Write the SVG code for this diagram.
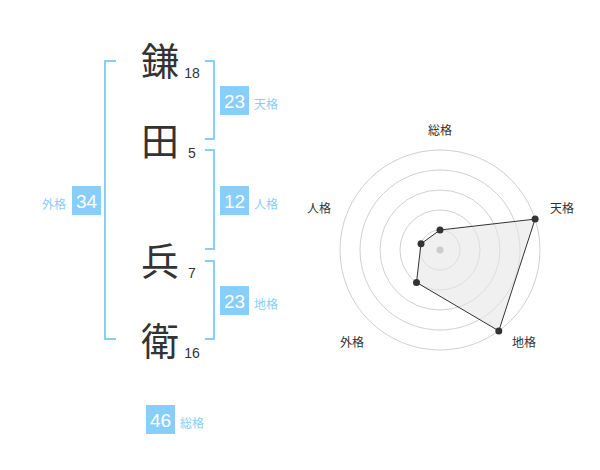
<svg xmlns="http://www.w3.org/2000/svg" width="600" height="470" viewBox="0 0 600 470">
<style>
.ch{font-family:"Noto Sans CJK JP","Noto Sans CJK SC",sans-serif;font-size:38px;fill:#333;text-anchor:middle}
.st{font-family:"Liberation Sans",Arial,sans-serif;font-size:14px;fill:#333;text-anchor:middle}
.br{fill:none;stroke:#87cefa;stroke-width:2}
.bx{fill:#87cefa}
.bn{font-family:"Liberation Sans",Arial,sans-serif;font-size:19px;fill:#fff;text-anchor:middle}
.bl{font-family:"Noto Sans CJK JP","Noto Sans CJK SC",sans-serif;font-size:12px;fill:#87cefa}
.rl{font-family:"Noto Sans CJK JP","Noto Sans CJK SC",sans-serif;font-size:12px;fill:#333;text-anchor:middle}
.ring{fill:none;stroke:#d0d0d0;stroke-width:1}
.pt{fill:#333}
</style>
<rect width="600" height="470" fill="#fff"/>
<g id="name">
<g id="c1"><text class="ch" x="160" y="74.5">鎌</text><text class="st" x="192" y="78">18</text></g>
<g id="c2"><text class="ch" x="160" y="154.5">田</text><text class="st" x="192" y="158">5</text></g>
<g id="c3"><text class="ch" x="160" y="274.5">兵</text><text class="st" x="192" y="278">7</text></g>
<g id="c4"><text class="ch" x="160" y="354.5">衛</text><text class="st" x="192" y="358">16</text></g>
</g>
<g id="connectors">
<path class="br" d="M116,61 H105 V339 H116"/>
<path class="br" d="M205,61 H214 V139 H205"/>
<path class="br" d="M205,150 H214 V249 H205"/>
<path class="br" d="M205,261 H214 V339 H205"/>
</g>
<g id="tenkaku"><rect class="bx" x="220" y="86" width="29" height="29"/><text class="bn" x="234.5" y="107.5">23</text><text class="bl" x="254" y="109">天格</text></g>
<g id="jinkaku"><rect class="bx" x="220" y="186" width="29" height="29"/><text class="bn" x="234.5" y="207.5">12</text><text class="bl" x="254" y="209">人格</text></g>
<g id="chikaku"><rect class="bx" x="220" y="286" width="29" height="29"/><text class="bn" x="234.5" y="307.5">23</text><text class="bl" x="254" y="309">地格</text></g>
<g id="gaikaku"><rect class="bx" x="72" y="186" width="29" height="29"/><text class="bn" x="86.5" y="207.5">34</text><text class="bl" x="66" y="209" text-anchor="end">外格</text></g>
<g id="soukaku"><rect class="bx" x="146" y="405" width="29" height="29"/><text class="bn" x="160.5" y="426.5">46</text><text class="bl" x="180" y="428">総格</text></g>
<g id="radar">
<circle class="ring" cx="440" cy="250" r="20"/>
<circle class="ring" cx="440" cy="250" r="40"/>
<circle class="ring" cx="440" cy="250" r="60"/>
<circle class="ring" cx="440" cy="250" r="80"/>
<circle class="ring" cx="440" cy="250" r="100"/>
<polygon points="440,230 535.1,219.1 498.8,330.9 416.5,282.4 421,243.8" fill="#e6e6e6" fill-opacity="0.6" stroke="#333" stroke-width="1"/>
<circle cx="440" cy="250" r="3.5" fill="#ccc"/>
<circle class="pt" cx="440" cy="230" r="3.5"/>
<circle class="pt" cx="535.1" cy="219.1" r="3.5"/>
<circle class="pt" cx="498.8" cy="330.9" r="3.5"/>
<circle class="pt" cx="416.5" cy="282.4" r="3.5"/>
<circle class="pt" cx="421" cy="243.8" r="3.5"/>
<text class="rl" x="440" y="135">総格</text>
<text class="rl" x="562" y="213">天格</text>
<text class="rl" x="524" y="347">地格</text>
<text class="rl" x="352" y="347">外格</text>
<text class="rl" x="319" y="213">人格</text>
</g>
</svg>
